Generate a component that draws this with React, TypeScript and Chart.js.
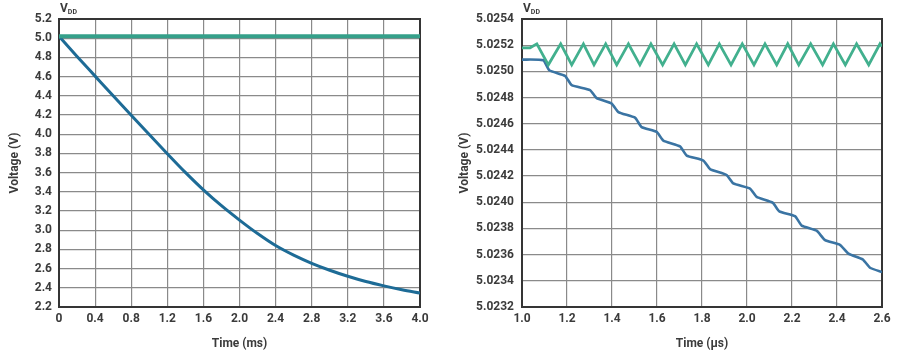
import React, { useEffect, useRef } from "react";
import { Chart, registerables } from "chart.js";

Chart.register(...registerables);

// ---------- Left chart data (Time in ms) ----------
const leftVddTime = [0, 4.0];
const leftVddVolt = [5.02, 5.02];
const leftOutTime = [0, 0.2, 0.4, 0.6, 0.8, 1.0, 1.2, 1.4, 1.6, 1.8, 2.0, 2.2, 2.4, 2.6, 2.8, 3.0, 3.2, 3.4, 3.6, 3.8, 4.0];
const leftOutVolt = [5.02, 4.81, 4.605, 4.4, 4.197, 3.996, 3.797, 3.602, 3.42, 3.255, 3.105, 2.965, 2.84, 2.74, 2.655, 2.583, 2.52, 2.465, 2.42, 2.38, 2.345];
const leftXTicks = [0, 0.4, 0.8, 1.2, 1.6, 2.0, 2.4, 2.8, 3.2, 3.6, 4.0];
const leftXLabels = ["0", "0.4", "0.8", "1.2", "1.6", "2.0", "2.4", "2.8", "3.2", "3.6", "4.0"];
const leftYTicks = [2.2, 2.4, 2.6, 2.8, 3.0, 3.2, 3.4, 3.6, 3.8, 4.0, 4.2, 4.4, 4.6, 4.8, 5.0, 5.2];
const leftYLabels = ["2.2", "2.4", "2.6", "2.8", "3.0", "3.2", "3.4", "3.6", "3.8", "4.0", "4.2", "4.4", "4.6", "4.8", "5.0", "5.2"];

// ---------- Right chart data (Time in µs) ----------
const rightVddTime = [1.0, 1.036, 1.066, 1.117, 1.172, 1.221, 1.273, 1.32, 1.372, 1.421, 1.473, 1.524, 1.573, 1.625, 1.676, 1.726, 1.776, 1.828, 1.877, 1.929, 1.979, 2.031, 2.08, 2.132, 2.181, 2.23, 2.283, 2.336, 2.384, 2.437, 2.487, 2.541, 2.591, 2.6];
const rightVddVolt = [5.02518, 5.02518, 5.02521, 5.02505, 5.02521, 5.02505, 5.02521, 5.02505, 5.02521, 5.02505, 5.02521, 5.02505, 5.02521, 5.02505, 5.02521, 5.02505, 5.02521, 5.02505, 5.02521, 5.02505, 5.02521, 5.02505, 5.02521, 5.02505, 5.02521, 5.02505, 5.02521, 5.02505, 5.02521, 5.02505, 5.02521, 5.02505, 5.02521, 5.02519];
const rightOutTime = [1.0, 1.0947, 1.1213, 1.1911, 1.2207, 1.3022, 1.3319, 1.3985, 1.4281, 1.5022, 1.5319, 1.5985, 1.6281, 1.7022, 1.7319, 1.8059, 1.8356, 1.9096, 1.9393, 2.0133, 2.043, 2.1141, 2.1437, 2.2133, 2.243, 2.3096, 2.3467, 2.4133, 2.4504, 2.5141, 2.5467, 2.6];
const rightOutVolt = [5.02509, 5.025085, 5.025008, 5.024966, 5.024895, 5.024857, 5.024795, 5.024754, 5.024689, 5.024646, 5.024574, 5.024537, 5.024471, 5.024427, 5.024357, 5.024319, 5.024254, 5.024208, 5.024144, 5.024105, 5.024041, 5.023997, 5.02393, 5.023894, 5.023822, 5.023783, 5.023711, 5.023675, 5.023608, 5.023564, 5.0235, 5.023467];
const rightXTicks = [1.0, 1.2, 1.4, 1.6, 1.8, 2.0, 2.2, 2.4, 2.6];
const rightXLabels = ["1.0", "1.2", "1.4", "1.6", "1.8", "2.0", "2.2", "2.4", "2.6"];
const rightYTicks = [5.0232, 5.0234, 5.0236, 5.0238, 5.024, 5.0242, 5.0244, 5.0246, 5.0248, 5.025, 5.0252, 5.0254];
const rightYLabels = ["5.0232", "5.0234", "5.0236", "5.0238", "5.0240", "5.0242", "5.0244", "5.0246", "5.0248", "5.0250", "5.0252", "5.0254"];

const FONT = "Roboto, 'Open Sans', sans-serif";
const TEXT = "#3b3b3b";
const GRID = "#8a8a8a";
const FRAME = "#353535";

const pts = (xs: number[], ys: number[]) => xs.map((x, i) => ({ x, y: ys[i] }));

type Cfg = {
  xTicks: number[];
  xLabels: string[];
  yTicks: number[];
  yLabels: string[];
  xTitle: string;
  yWidth: number;
  padRight: number;
  tickPadY: number;
  datasets: any[];
};

function build(canvas: HTMLCanvasElement, c: Cfg) {
  const framePlugin = {
    id: "frame" + Math.random(),
    beforeDatasetsDraw(chart: any) {
      const { ctx, chartArea: a } = chart;
      ctx.save();
      ctx.strokeStyle = FRAME;
      ctx.lineWidth = 2;
      ctx.strokeRect(a.left, a.top, a.right - a.left, a.bottom - a.top);
      ctx.restore();
    },
    afterDraw(chart: any) {
      const { ctx, chartArea: a } = chart;
      ctx.save();
      ctx.fillStyle = TEXT;
      ctx.textBaseline = "alphabetic";
      ctx.font = `bold 12px ${FONT}`;
      ctx.fillText("V", a.left + 1, 12);
      const w = ctx.measureText("V").width;
      ctx.font = `bold 7px ${FONT}`;
      ctx.fillText("DD", a.left + 1 + w, 14);
      ctx.restore();
    },
  };

  return new Chart(canvas, {
    type: "line",
    data: { datasets: c.datasets },
    plugins: [framePlugin],
    options: {
      responsive: false,
      animation: false,
      devicePixelRatio: 1,
      layout: { padding: { top: 19, right: c.padRight, bottom: 0, left: 0 } },
      plugins: { legend: { display: false }, tooltip: { enabled: false } },
      elements: { point: { radius: 0 } },
      scales: {
        x: {
          type: "linear",
          min: c.xTicks[0],
          max: c.xTicks[c.xTicks.length - 1],
          afterBuildTicks: (s: any) => {
            s.ticks = c.xTicks.map((v) => ({ value: v }));
          },
          afterFit: (s: any) => {
            s.height = 48;
          },
          ticks: {
            autoSkip: false,
            maxRotation: 0,
            padding: 5,
            color: TEXT,
            font: { family: FONT, size: 12, weight: "bold" },
            callback: (_v: any, i: number) => c.xLabels[i],
          },
          grid: { color: GRID, lineWidth: 1.2, drawTicks: false },
          border: { display: false },
          title: {
            display: true,
            text: c.xTitle,
            color: TEXT,
            font: { family: FONT, size: 12, weight: "bold" },
            padding: { top: 0, bottom: 4 },
          },
        },
        y: {
          type: "linear",
          min: c.yTicks[0],
          max: c.yTicks[c.yTicks.length - 1],
          afterBuildTicks: (s: any) => {
            s.ticks = c.yTicks.map((v) => ({ value: v }));
          },
          afterFit: (s: any) => {
            s.width = c.yWidth;
          },
          ticks: {
            autoSkip: false,
            padding: c.tickPadY,
            color: TEXT,
            font: { family: FONT, size: 12, weight: "bold" },
            callback: (_v: any, i: number) => c.yLabels[i],
          },
          grid: { color: GRID, lineWidth: 1.2, drawTicks: false },
          border: { display: false },
          title: {
            display: true,
            text: "Voltage (V)",
            color: TEXT,
            font: { family: FONT, size: 12, weight: "bold" },
            padding: { top: 8, bottom: 0 },
          },
        },
      },
    } as any,
  });
}

export default function App() {
  const leftRef = useRef<HTMLCanvasElement>(null);
  const rightRef = useRef<HTMLCanvasElement>(null);

  useEffect(() => {
    const left = build(leftRef.current!, {
      xTicks: leftXTicks,
      xLabels: leftXLabels,
      yTicks: leftYTicks,
      yLabels: leftYLabels,
      xTitle: "Time (ms)",
      yWidth: 59,
      padRight: 30,
      tickPadY: 7,
      datasets: [
        { data: pts(leftVddTime, leftVddVolt), borderColor: "#35a08a", borderWidth: 4, tension: 0 },
        { data: pts(leftOutTime, leftOutVolt), borderColor: "#1d6b96", borderWidth: 3, cubicInterpolationMode: "monotone" },
      ],
    });
    const right = build(rightRef.current!, {
      xTicks: rightXTicks,
      xLabels: rightXLabels,
      yTicks: rightYTicks,
      yLabels: rightYLabels,
      xTitle: "Time (µs)",
      yWidth: 72,
      padRight: 18,
      tickPadY: 8,
      datasets: [
        { data: pts(rightVddTime, rightVddVolt), borderColor: "#42b08e", borderWidth: 2.8, tension: 0 },
        { data: pts(rightOutTime, rightOutVolt), borderColor: "#3a74a3", borderWidth: 2.6, tension: 0.15 },
      ],
    });
    return () => {
      left.destroy();
      right.destroy();
    };
  }, []);

  return (
    <div style={{ position: "fixed", left: 0, top: 0, width: 900, height: 355, background: "#fff" }}>
      <canvas ref={leftRef} width={450} height={355} style={{ position: "absolute", left: 0, top: 0 }} />
      <canvas ref={rightRef} width={450} height={355} style={{ position: "absolute", left: 450, top: 0 }} />
    </div>
  );
}
